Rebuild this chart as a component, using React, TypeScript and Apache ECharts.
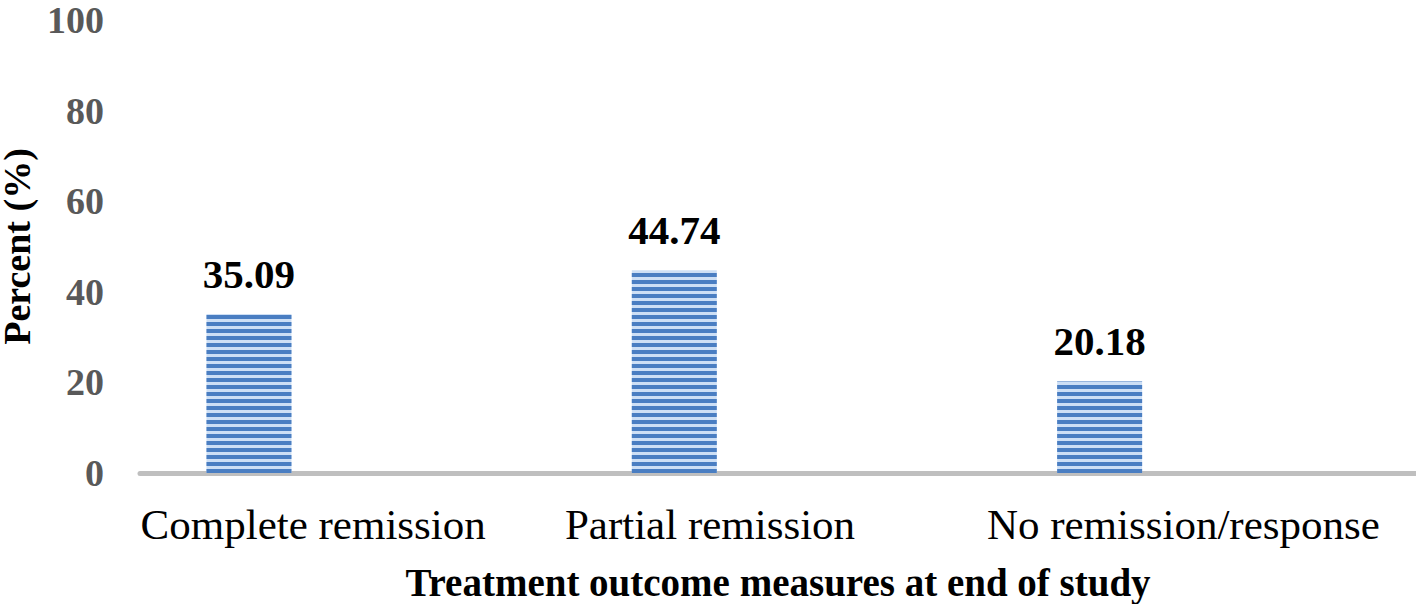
import React, { useEffect, useRef } from "react";
import * as echarts from "echarts";

const categories = ["Complete remission", "Partial remission", "No remission/response"];
const percentValues = [35.09, 44.74, 20.18];
const yTicks = [0, 20, 40, 60, 80, 100];
const xAxisTitle = "Treatment outcome measures at end of study";
const yAxisTitle = "Percent (%)";

const FONT = '"Times New Roman", "Liberation Serif", serif';
const labelKeys = ["a", "b", "c"];

export default function App() {
  const ref = useRef<HTMLDivElement>(null);
  useEffect(() => {
    document.body.style.margin = "0";
    if (!ref.current) return;
    const chart = echarts.init(ref.current, null, { renderer: "svg" });
    chart.setOption({
      animation: false,
      backgroundColor: "#ffffff",
      grid: {
        left: 140,
        right: 0,
        top: 20,
        bottom: 131,
        containLabel: false,
        outerBoundsMode: "none",
      },
      xAxis: {
        type: "category",
        data: categories,
        axisLine: { show: true, lineStyle: { color: "#bfbfbf", width: 5 } },
        axisTick: { show: false },
        axisLabel: {
          margin: 30,
          formatter: (v: string, i: number) => `{${labelKeys[i]}|${v}}`,
          rich: {
            a: { fontFamily: FONT, fontSize: 43, color: "#000", padding: [0, 79, 0, 0] },
            b: { fontFamily: FONT, fontSize: 43, color: "#000", padding: [0, 136, 0, 0] },
            c: { fontFamily: FONT, fontSize: 43, color: "#000", padding: [0, 40, 0, 0] },
          },
        },
        name: xAxisTitle,
        nameLocation: "middle",
        nameGap: 90,
        nameTextStyle: { fontFamily: FONT, fontSize: 39, fontWeight: "bold", color: "#000" },
      },
      yAxis: {
        type: "value",
        min: yTicks[0],
        max: yTicks[yTicks.length - 1],
        interval: 20,
        axisLine: { show: false },
        axisTick: { show: false },
        splitLine: { show: false },
        axisLabel: {
          margin: 36,
          fontFamily: FONT,
          fontSize: 38,
          fontWeight: "bold",
          color: "#595959",
        },
        name: yAxisTitle,
        nameLocation: "middle",
        nameGap: 96,
        nameTextStyle: { fontFamily: FONT, fontSize: 38, fontWeight: "bold", color: "#000" },
      },
      series: [
        {
          type: "bar",
          name: "Percent",
          data: percentValues,
          barWidth: 85,
          barGap: "144%",
          itemStyle: {
            color: "#cddff5",
            decal: {
              symbol: "rect",
              symbolSize: 1,
              dashArrayX: [1, 0],
              dashArrayY: [3.4, 2.8],
              color: "#4a7ec2",
              rotation: 0,
            },
          },
          label: {
            show: true,
            position: "top",
            distance: 20,
            fontFamily: FONT,
            fontSize: 41,
            fontWeight: "bold",
            color: "#000",
            formatter: (p: any) => p.value.toFixed(2),
          },
        },
        {
          type: "bar",
          name: "spacer",
          data: [],
          barWidth: 85,
        },
      ],
    });
    return () => chart.dispose();
  }, []);
  return <div ref={ref} style={{ width: 1416, height: 604, background: "#fff" }} />;
}
